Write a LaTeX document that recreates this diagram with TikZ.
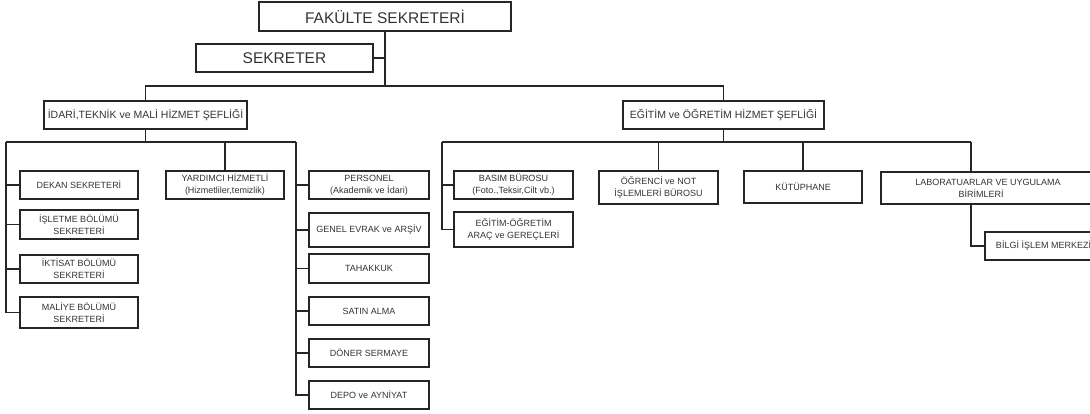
\documentclass[tikz,border=0pt]{standalone}
\usepackage{fontspec}
\setmainfont{Liberation Sans}
\usetikzlibrary{positioning}

\begin{document}
\begin{tikzpicture}[x=1pt, y=-1pt, line width=1.1pt,
    box/.style={draw=black!85, inner sep=0pt, align=center, text=black!80,
        minimum width=118pt, minimum height=28pt, font=\fontsize{9}{12}\selectfont},
    topbox/.style={box, font=\fontsize{15.5}{18}\selectfont},
    chiefbox/.style={box, font=\fontsize{10.5}{13}\selectfont}]
        \useasboundingbox (0, 0) rectangle (1090, 413);

        % ust kademe
        \node[topbox, minimum width=252pt, minimum height=29pt] (fakulte) at (385, 16.5) {FAKÜLTE SEKRETERİ};
        \node[topbox, minimum width=177pt] (sekreter) at (284.5, 58) {SEKRETER};
        \node[chiefbox, minimum width=203pt] (idari) at (145.5, 115) {İDARİ,TEKNİK ve MALİ HİZMET ŞEFLİĞİ};
        \node[chiefbox, minimum width=201pt] (egitim) at (723.5, 115) {EĞİTİM ve ÖĞRETİM HİZMET ŞEFLİĞİ};

        \coordinate (topbus) at (385, 86);
        \draw[black!85] (fakulte.south) -- (topbus);
        \draw[black!85] (sekreter.east) -- (sekreter.east -| topbus);
        \draw[black!85] (idari.north) |- (topbus) -| (egitim.north);

        % idari birimler
        \node[box] (dekan) at (79, 185) {DEKAN SEKRETERİ};
        \node[box, minimum height=29pt] (isletme) at (79, 224.5) {İŞLETME BÖLÜMÜ\\SEKRETERİ};
        \node[box] (iktisat) at (79, 269) {İKTİSAT BÖLÜMÜ\\SEKRETERİ};
        \node[box, minimum height=31pt] (maliye) at (79, 312.5) {MALİYE BÖLÜMÜ\\SEKRETERİ};
        \node[box] (yardimci) at (225, 185) {YARDIMCI HİZMETLİ\\(Hizmetliler,temizlik)};
        \node[box, minimum width=120pt] (personel) at (369, 185) {PERSONEL\\(Akademik ve İdari)};
        \node[box, minimum width=120pt, minimum height=34pt] (evrak) at (369, 230) {GENEL EVRAK ve ARŞİV};
        \node[box, minimum width=120pt, minimum height=29pt] (tahakkuk) at (369, 268.5) {TAHAKKUK};
        \node[box, minimum width=120pt] (satin) at (369, 311) {SATIN ALMA};
        \node[box, minimum width=120pt] (doner) at (369, 353) {DÖNER SERMAYE};
        \node[box, minimum width=120pt] (depo) at (369, 395) {DEPO ve AYNİYAT};

        \coordinate (lbusl) at (6, 142);
        \coordinate (lbusr) at (296, 142);
        \draw[black!85] (idari.south) -- (idari.south |- lbusl);
        \draw[black!85] (lbusl) -- (lbusr);
        \draw[black!85] (lbusl) |- (maliye.west);
        \draw[black!85] (dekan.west -| lbusl) -- (dekan.west);
        \draw[black!85] (isletme.west -| lbusl) -- (isletme.west);
        \draw[black!85] (iktisat.west -| lbusl) -- (iktisat.west);
        \draw[black!85] (yardimci.north |- lbusl) -- (yardimci.north);
        \draw[black!85] (lbusr) |- (depo.west);
        \draw[black!85] (personel.west -| lbusr) -- (personel.west);
        \draw[black!85] (evrak.west -| lbusr) -- (evrak.west);
        \draw[black!85] (tahakkuk.west -| lbusr) -- (tahakkuk.west);
        \draw[black!85] (satin.west -| lbusr) -- (satin.west);
        \draw[black!85] (doner.west -| lbusr) -- (doner.west);

        % egitim birimleri
        \node[box, minimum width=119pt] (basim) at (513.5, 185) {BASIM BÜROSU\\(Foto.,Teksir,Cilt vb.)};
        \node[box, minimum width=119pt, minimum height=35pt] (arac) at (513.5, 229.5) {EĞİTİM-ÖĞRETİM\\ARAÇ ve GEREÇLERİ};
        \node[box, minimum width=119pt, minimum height=33pt] (ogrenci) at (658.5, 187.5) {ÖĞRENCİ ve NOT\\İŞLEMLERİ BÜROSU};
        \node[box, minimum height=32pt] (kutuphane) at (803, 187) {KÜTÜPHANE};
        \node[box, minimum width=214pt, minimum height=32pt] (lab) at (988, 188) {LABORATUARLAR VE UYGULAMA\\BİRİMLERİ\hspace*{14pt}};
        \node[box, minimum width=117pt] (bilgi) at (1043.5, 246) {BİLGİ İŞLEM MERKEZİ};

        \coordinate (rbusl) at (442, 142);
        \coordinate (rbusr) at (971, 142);
        \draw[black!85] (egitim.south) -- (egitim.south |- rbusl);
        \draw[black!85] (rbusl) -- (rbusr);
        \draw[black!85] (rbusl) |- (arac.west);
        \draw[black!85] (basim.west -| rbusl) -- (basim.west);
        \draw[black!85] (ogrenci.north |- rbusl) -- (ogrenci.north);
        \draw[black!85] (kutuphane.north |- rbusl) -- (kutuphane.north);
        \draw[black!85] (rbusr) -- (rbusr |- lab.north);
        \draw[black!85] ([xshift=-17pt]lab.south) |- (bilgi.west);
\end{tikzpicture}
\end{document}
